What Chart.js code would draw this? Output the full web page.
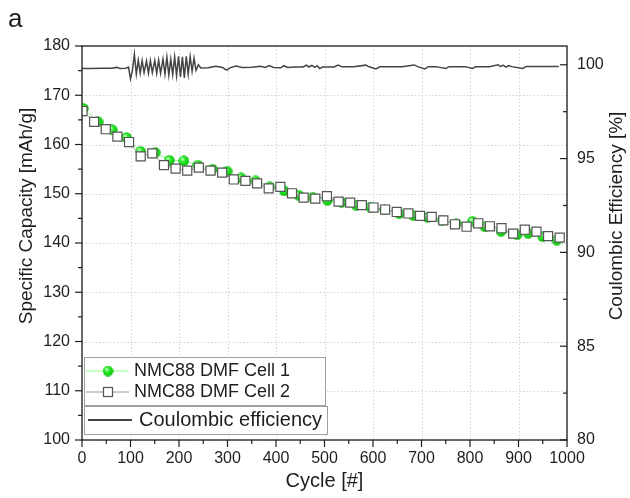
<!DOCTYPE html>
<html>
<head>
<meta charset="utf-8">
<script src="https://cdn.jsdelivr.net/npm/chart.js@4.4.1/dist/chart.umd.min.js"></script>
<style>
  body { margin: 0; background: #fff; }
  canvas { display: block; }
</style>
</head>
<body>
<canvas id="myChart" width="630" height="498"></canvas>
<script>
// data
const cell1Cycles = [3, 33, 62, 92, 121, 151, 180, 210, 239, 269, 299, 328, 358, 387, 417, 447, 476, 506, 535, 565,
  595, 624, 654, 683, 713, 743, 772, 805, 831, 864, 897, 920, 950, 979];
const cell1Capacity = [167.3, 164.6, 163.0, 161.4, 158.6, 158.4, 156.8, 156.7, 155.8, 155.0, 154.6, 153.2, 152.6, 151.4,
  150.6, 149.7, 149.3, 148.7, 148.3, 147.7, 147.3, 146.8, 146.0, 145.6, 145.2, 144.6, 143.9, 144.4, 143.3, 142.4,
  141.7, 142.0, 141.3, 140.6];

const cell2Cycles = [1, 25, 49, 73, 97, 121, 145, 169, 193, 217, 241, 265, 289, 313, 337, 361, 385, 409, 433, 457,
  481, 505, 529, 553, 577, 601, 625, 649, 673, 697, 721, 745, 769, 793, 817, 841, 865, 889, 913, 937, 961, 985];
const cell2Capacity = [166.8, 164.6, 163.1, 161.6, 160.5, 157.6, 158.2, 155.8, 155.1, 154.7, 155.3, 154.7, 154.3, 152.9,
  152.6, 152.1, 151.1, 151.4, 150.1, 149.2, 149.0, 149.5, 148.4, 148.2, 147.7, 147.2, 146.8, 146.3, 146.0, 145.5,
  145.3, 144.6, 143.8, 143.3, 144.0, 143.4, 143.0, 141.9, 142.7, 142.3, 141.4, 141.1];

const ceCycles = [0, 20, 40, 60, 72, 78, 90, 96, 100, 104, 108, 112, 116, 120, 124, 128, 133, 137, 141, 145, 150, 154,
  158, 162, 167, 171, 175, 179, 183, 187, 191, 195, 199, 203, 207, 211, 215, 219, 223, 227, 231, 235, 240, 245, 260,
  276, 290, 298, 306, 318, 330, 350, 368, 378, 386, 395, 410, 416, 424, 440, 456, 463, 468, 474, 480, 485, 490, 496,
  520, 528, 536, 560, 585, 592, 606, 614, 640, 660, 685, 692, 707, 714, 730, 750, 757, 790, 805, 812, 840, 858, 863,
  868, 874, 880, 886, 909, 916, 940, 960, 983];
const ceValues = [99.80, 99.80, 99.81, 99.82, 99.86, 99.80, 99.82, 99.88, 99.25, 99.70, 100.55, 99.50, 100.25, 99.55,
  100.22, 99.58, 100.20, 99.55, 100.22, 99.58, 100.22, 99.55, 100.25, 99.55, 100.30, 99.50, 100.40, 99.45, 100.30,
  99.48, 100.42, 99.42, 100.45, 99.35, 100.42, 99.30, 100.45, 99.50, 100.44, 99.65, 100.35, 99.70, 100.00, 99.83,
  99.84, 99.92, 99.85, 99.72, 99.85, 99.93, 99.86, 99.87, 99.92, 99.86, 99.96, 99.86, 99.84, 99.95, 99.86, 99.88,
  99.88, 99.98, 99.88, 99.97, 99.86, 99.95, 99.80, 99.88, 99.88, 99.98, 99.89, 99.89, 99.98, 99.89, 99.78, 99.89,
  99.89, 99.89, 99.99, 99.90, 99.78, 99.90, 99.90, 99.80, 99.90, 99.90, 99.80, 99.90, 99.90, 100.00, 99.90, 99.98,
  99.88, 99.96, 99.90, 99.80, 99.91, 99.91, 99.91, 99.91];

const cycleTicks = [0, 100, 200, 300, 400, 500, 600, 700, 800, 900, 1000];
const capacityTicks = [100, 110, 120, 130, 140, 150, 160, 170, 180];
const efficiencyTicks = [80, 85, 90, 95, 100];

const FONT = "'Liberation Sans', Arial, sans-serif";
const INK = '#1e1e1e';

function makeSphere(d) {
  const c = document.createElement('canvas');
  c.width = d; c.height = d;
  const g = c.getContext('2d');
  const r = d / 2;
  const grad = g.createRadialGradient(r * 0.7, r * 0.65, r * 0.1, r, r, r);
  grad.addColorStop(0, '#c8ffc8');
  grad.addColorStop(0.35, '#2cf02c');
  grad.addColorStop(1, '#00b800');
  g.fillStyle = grad;
  g.beginPath();
  g.arc(r, r, r - 0.3, 0, Math.PI * 2);
  g.fill();
  return c;
}
const sphere = makeSphere(11);

const toPoints = (xs, ys) => xs.map((x, i) => ({x: x, y: ys[i]}));
const fixTicks = list => scale => { scale.ticks = list.map(v => ({value: v})); };

// grid, frame, tick marks, side titles, legend boxes and panel letter
const decorations = {
  id: 'decorations',
  beforeDatasetsDraw(chart) {
    const {ctx, chartArea: a, scales} = chart;
    ctx.save();
    ctx.strokeStyle = '#d4d4d4';
    ctx.lineWidth = 1;
    ctx.setLineDash([1.5, 2]);
    cycleTicks.forEach(v => {
      const x = Math.round(scales.x.getPixelForValue(v)) + 0.5;
      ctx.beginPath(); ctx.moveTo(x, a.top); ctx.lineTo(x, a.bottom); ctx.stroke();
    });
    capacityTicks.forEach(v => {
      const y = Math.round(scales.y.getPixelForValue(v)) + 0.5;
      ctx.beginPath(); ctx.moveTo(a.left, y); ctx.lineTo(a.right, y); ctx.stroke();
    });
    ctx.restore();
  },
  afterDraw(chart) {
    const {ctx, chartArea: a, scales} = chart;
    ctx.save();
    ctx.strokeStyle = INK;
    ctx.lineWidth = 1.3;
    ctx.strokeRect(a.left, a.top, a.right - a.left, a.bottom - a.top);

    const tick = (x1, y1, x2, y2) => { ctx.beginPath(); ctx.moveTo(x1, y1); ctx.lineTo(x2, y2); ctx.stroke(); };
    ctx.lineWidth = 1.2;
    cycleTicks.forEach((v, i) => {
      const x = scales.x.getPixelForValue(v);
      tick(x, a.bottom, x, a.bottom + 7);
      if (i < cycleTicks.length - 1) {
        const m = scales.x.getPixelForValue((v + cycleTicks[i + 1]) / 2);
        tick(m, a.bottom, m, a.bottom + 4);
      }
    });
    capacityTicks.forEach((v, i) => {
      const y = scales.y.getPixelForValue(v);
      tick(a.left - 7, y, a.left, y);
      if (i < capacityTicks.length - 1) {
        const m = scales.y.getPixelForValue((v + capacityTicks[i + 1]) / 2);
        tick(a.left - 4, m, a.left, m);
      }
    });
    efficiencyTicks.forEach((v, i) => {
      const y = scales.y1.getPixelForValue(v);
      tick(a.right - 7, y, a.right, y);
      if (i < efficiencyTicks.length - 1) {
        const m = scales.y1.getPixelForValue((v + efficiencyTicks[i + 1]) / 2);
        tick(a.right - 4, m, a.right, m);
      }
    });

    // vertical axis titles, both read bottom to top
    ctx.fillStyle = INK;
    ctx.font = '19px ' + FONT;
    ctx.textAlign = 'center';
    ctx.textBaseline = 'middle';
    [['Specific Capacity [mAh/g]', 27], ['Coulombic Efficiency [%]', 617]].forEach(([t, x]) => {
      ctx.save();
      ctx.translate(x, 216);
      ctx.rotate(-Math.PI / 2);
      ctx.fillText(t, 0, 0);
      ctx.restore();
    });
    ctx.textAlign = 'left';

    // legend
    ctx.fillStyle = '#fff';
    ctx.strokeStyle = '#a0a0a0';
    ctx.lineWidth = 1;
    ctx.fillRect(84.5, 357.5, 241, 48);
    ctx.strokeRect(84.5, 357.5, 241, 48);
    ctx.fillRect(84.5, 406.5, 243, 28);
    ctx.strokeRect(84.5, 406.5, 243, 28);

    ctx.fillStyle = INK;
    ctx.strokeStyle = '#8cff8c';
    tick(86, 371, 129, 371);
    ctx.drawImage(sphere, 108 - 5.5, 371 - 5.5);
    ctx.font = '18px ' + FONT;
    ctx.fillText('NMC88 DMF Cell 1', 134, 371);

    ctx.strokeStyle = '#9a9a9a';
    tick(86, 392, 129, 392);
    ctx.fillStyle = '#fff';
    ctx.strokeStyle = '#555';
    ctx.lineWidth = 1.2;
    ctx.fillRect(103.5, 387.5, 9, 9);
    ctx.strokeRect(103.5, 387.5, 9, 9);
    ctx.fillStyle = INK;
    ctx.fillText('NMC88 DMF Cell 2', 134, 392);

    ctx.strokeStyle = '#444';
    ctx.lineWidth = 2;
    tick(88, 420, 132, 420);
    ctx.font = '20px ' + FONT;
    ctx.fillText('Coulombic efficiency', 139, 420);

    ctx.textBaseline = 'alphabetic';
    ctx.font = '26px ' + FONT;
    ctx.fillText('a', 8, 27);
    ctx.restore();
  }
};

const ctx = document.getElementById('myChart');
const myChart = new Chart(ctx, {
  type: 'line',
  data: {
    datasets: [
      {
        label: 'Coulombic efficiency',
        data: toPoints(ceCycles, ceValues),
        yAxisID: 'y1',
        borderColor: '#444',
        borderWidth: 1.5,
        pointRadius: 0,
        tension: 0,
        order: 3
      },
      {
        label: 'NMC88 DMF Cell 1',
        data: toPoints(cell1Cycles, cell1Capacity),
        yAxisID: 'y',
        borderColor: '#8cff8c',
        borderWidth: 1,
        pointStyle: sphere,
        pointRadius: 5,
        order: 2
      },
      {
        label: 'NMC88 DMF Cell 2',
        data: toPoints(cell2Cycles, cell2Capacity),
        yAxisID: 'y',
        borderColor: '#999',
        borderWidth: 1,
        pointStyle: 'rect',
        pointRadius: 6.4,
        pointBorderColor: '#555',
        pointBorderWidth: 1.2,
        pointBackgroundColor: '#fff',
        order: 1
      }
    ]
  },
  options: {
    responsive: false,
    animation: false,
    layout: { padding: { top: 46, left: 0, right: 0, bottom: 0 } },
    plugins: {
      legend: { display: false },
      tooltip: { enabled: false }
    },
    scales: {
      x: {
        type: 'linear',
        min: 0,
        max: 1000,
        afterBuildTicks: fixTicks(cycleTicks),
        afterFit: s => { s.height = 58; },
        grid: { display: false, drawTicks: false },
        border: { display: false },
        ticks: { color: INK, font: { family: FONT, size: 16 }, padding: 9, maxRotation: 0, callback: v => String(v) },
        title: { display: true, text: 'Cycle [#]', color: INK, font: { family: FONT, size: 20 }, padding: { top: 0, bottom: 5 } }
      },
      y: {
        position: 'left',
        min: 100,
        max: 180,
        afterBuildTicks: fixTicks(capacityTicks),
        afterFit: s => { s.width = 82; },
        grid: { display: false, drawTicks: false },
        border: { display: false },
        ticks: { color: INK, font: { family: FONT, size: 16 }, padding: 12, callback: v => String(v) }
      },
      y1: {
        position: 'right',
        min: 80,
        max: 101,
        afterBuildTicks: fixTicks(efficiencyTicks),
        afterFit: s => { s.width = 63; },
        grid: { display: false, drawTicks: false },
        border: { display: false },
        ticks: { color: INK, font: { family: FONT, size: 16 }, padding: 10, callback: v => String(v) }
      }
    }
  },
  plugins: [decorations]
});
</script>
</body>
</html>
